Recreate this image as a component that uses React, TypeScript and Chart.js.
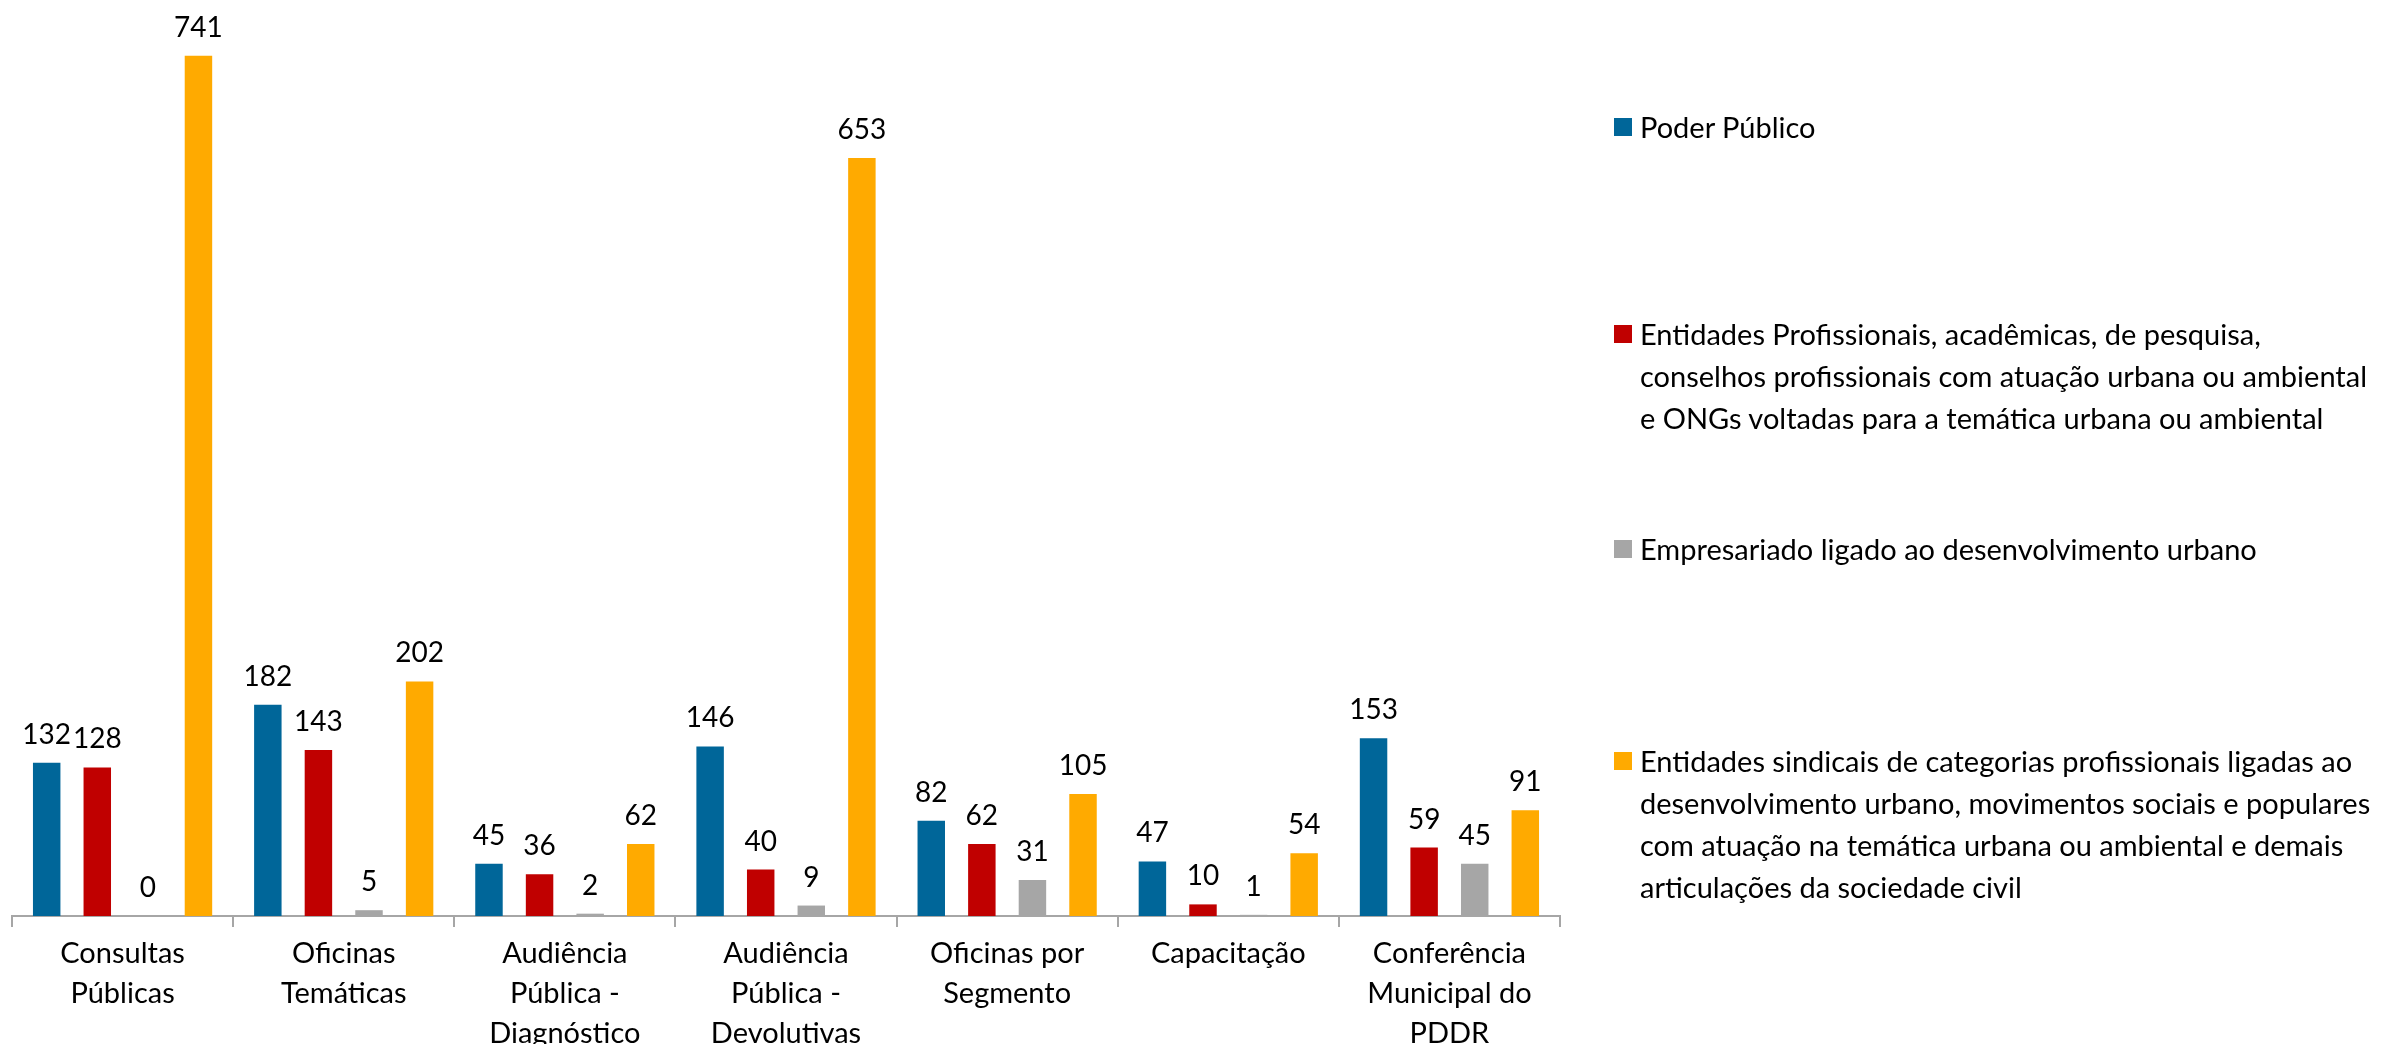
import React, { useEffect, useRef } from "react";
import { Chart, registerables } from "chart.js";

Chart.register(...registerables);

const categories: string[][] = [
  ["Consultas", "Públicas"],
  ["Oficinas", "Temáticas"],
  ["Audiência", "Pública -", "Diagnóstico"],
  ["Audiência", "Pública -", "Devolutivas"],
  ["Oficinas por", "Segmento"],
  ["Capacitação"],
  ["Conferência", "Municipal do", "PDDR"],
];

const poderPublico = [132, 182, 45, 146, 82, 47, 153];
const entidadesProfissionais = [128, 143, 36, 40, 62, 10, 59];
const empresariado = [0, 5, 2, 9, 31, 1, 45];
const entidadesSindicais = [741, 202, 62, 653, 105, 54, 91];

const seriesNames: string[][] = [
  ["Poder Público"],
  [
    "Entidades Profissionais, acadêmicas, de pesquisa,",
    "conselhos profissionais com atuação urbana ou ambiental",
    "e ONGs voltadas para a temática urbana ou ambiental",
  ],
  ["Empresariado ligado ao desenvolvimento urbano"],
  [
    "Entidades sindicais de categorias profissionais ligadas ao",
    "desenvolvimento urbano, movimentos sociais e populares",
    "com atuação na temática urbana ou ambiental e demais",
    "articulações da sociedade civil",
  ],
];

const seriesColors = ["#006699", "#C00000", "#A6A6A6", "#FFAA00"];
const legendTops = [106, 313, 528, 740];

const FONT = "Lato";
const FONT_SIZE = 29;
const VALUE_FONT_SIZE = 28;

const valueLabels = {
  id: "valueLabels",
  afterDatasetsDraw(chart: any) {
    const ctx = chart.ctx;
    ctx.save();
    ctx.font = `${VALUE_FONT_SIZE}px ${FONT}`;
    ctx.fillStyle = "#000000";
    ctx.textAlign = "center";
    ctx.textBaseline = "alphabetic";
    chart.data.datasets.forEach((ds: any, i: number) => {
      const meta = chart.getDatasetMeta(i);
      meta.data.forEach((bar: any, j: number) => {
        ctx.fillText(String(ds.data[j]), bar.x, bar.y - 19);
      });
    });
    ctx.restore();
  },
};

export default function App() {
  const ref = useRef<HTMLCanvasElement | null>(null);

  useEffect(() => {
    document.body.style.margin = "0";
    const seriesData = [poderPublico, entidadesProfissionais, empresariado, entidadesSindicais];
    const chart = new Chart(ref.current as HTMLCanvasElement, {
      type: "bar",
      data: {
        labels: categories,
        datasets: seriesData.map((d, i) => ({
          label: seriesNames[i].join(" "),
          data: d,
          backgroundColor: seriesColors[i],
          borderWidth: 0,
          categoryPercentage: 0.915,
          barPercentage: 0.543,
        })),
      },
      options: {
        responsive: false,
        animation: false,
        layout: { padding: { left: 12, right: 842, top: 0, bottom: 0 } },
        plugins: {
          legend: { display: false },
          tooltip: { enabled: false },
        },
        scales: {
          x: {
            border: { display: true, color: "#A6A6A6", width: 2 },
            grid: {
              offset: true,
              drawOnChartArea: false,
              drawTicks: true,
              tickLength: 11,
              color: "#A6A6A6",
              lineWidth: 2,
            },
            ticks: {
              color: "#000000",
              padding: 7,
              maxRotation: 0,
              autoSkip: false,
              font: { family: FONT, size: FONT_SIZE, lineHeight: 40 / FONT_SIZE },
            },
          },
          y: {
            display: false,
            min: 0,
            max: 789,
          },
        },
      },
      plugins: [valueLabels],
    });
    return () => chart.destroy();
  }, []);

  return (
    <div style={{ position: "relative", width: 2402, height: 1044, overflow: "hidden", background: "#fff" }}>
      <canvas ref={ref} width={2402} height={1061} style={{ position: "absolute", left: 0, top: 0 }} />
      {seriesNames.map((lines, i) => (
        <div
          key={i}
          style={{
            position: "absolute",
            left: 1614,
            top: legendTops[i],
            fontFamily: FONT,
            fontSize: FONT_SIZE,
            lineHeight: "42px",
            color: "#000",
            whiteSpace: "nowrap",
          }}
        >
          <span
            style={{
              position: "absolute",
              left: 0,
              top: 12,
              width: 18,
              height: 18,
              background: seriesColors[i],
            }}
          />
          <div style={{ marginLeft: 26 }}>
            {lines.map((l, k) => (
              <div key={k}>{l}</div>
            ))}
          </div>
        </div>
      ))}
    </div>
  );
}
